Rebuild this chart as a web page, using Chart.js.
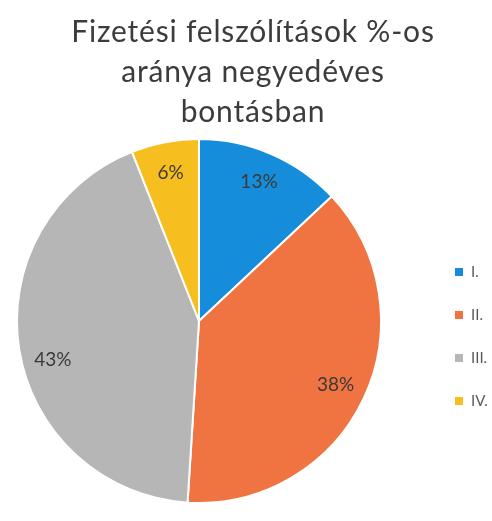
<!DOCTYPE html>
<html>
<head>
<meta charset="utf-8">
<script src="https://cdn.jsdelivr.net/npm/chart.js@4/dist/chart.umd.min.js"></script>
<style>
  html, body { margin: 0; padding: 0; background: #fff; }
  #wrap { position: relative; width: 492px; height: 521px; }
  #title {
    position: absolute; left: 14px; top: 10px; width: 478px;
    text-align: center; font-family: Lato, sans-serif; font-size: 30px;
    line-height: 40px; color: #3c3c3c; letter-spacing: 0.8px;
  }
  #chart { position: absolute; left: 0; top: 0; }
</style>
</head>
<body>
<div id="wrap">
  <canvas id="chart" width="492" height="521"></canvas>
  <div id="title">Fizetési felszólítások %-os<br>aránya negyedéves<br>bontásban</div>
</div>
<script>
const quarters = ["I.", "II.", "III.", "IV."]
const shares = [13, 38, 43, 6]
const sliceColors = ["#158ddb", "#ef7441", "#b6b6b6", "#f7be1f"]

// percentage labels inside the slices
const sliceLabels = {
    id: 'sliceLabels',
    afterDatasetsDraw(chart) {
        const { ctx } = chart
        const arcs = chart.getDatasetMeta(0).data
        ctx.save()
        ctx.font = '19px Lato, sans-serif'
        ctx.fillStyle = '#3a3a3a'
        ctx.textAlign = 'center'
        ctx.textBaseline = 'middle'
        arcs.forEach((arc, i) => {
            const { x, y, startAngle, endAngle, outerRadius } = arc.getProps(['x', 'y', 'startAngle', 'endAngle', 'outerRadius'], true)
            let mid = (startAngle + endAngle) / 2
            if (i === 2) mid -= 0.1   // Excel pushes this one a bit lower
            const r = outerRadius * 0.83
            ctx.fillText(shares[i] + '%', x + Math.cos(mid) * r, y + Math.sin(mid) * r)
        })
        ctx.restore()
    }
}

// legend on the right, small squares
const sideLegend = {
    id: 'sideLegend',
    afterDraw(chart) {
        const { ctx } = chart
        ctx.save()
        ctx.font = '15px Lato, sans-serif'
        ctx.textBaseline = 'middle'
        quarters.forEach((q, i) => {
            const y = 272 + i * 43
            ctx.fillStyle = sliceColors[i]
            ctx.fillRect(455, y - 4, 8, 8)
            ctx.fillStyle = '#5a5a5a'
            ctx.fillText(q, 471, y)
        })
        ctx.restore()
    }
}

new Chart(document.getElementById("chart"), {
    type: 'pie',
    data: {
        labels: quarters,
        datasets: [{
            data: shares,
            backgroundColor: sliceColors,
            borderColor: '#ffffff',
            borderWidth: 2
        }]
    },
    options: {
        responsive: false,
        animation: false,
        layout: { padding: { left: 0, right: 94, top: 138, bottom: 17 } },
        plugins: {
            legend: { display: false },
            title: { display: false },
            tooltip: { enabled: false }
        }
    },
    plugins: [sliceLabels, sideLegend]
})
</script>
</body>
</html>
